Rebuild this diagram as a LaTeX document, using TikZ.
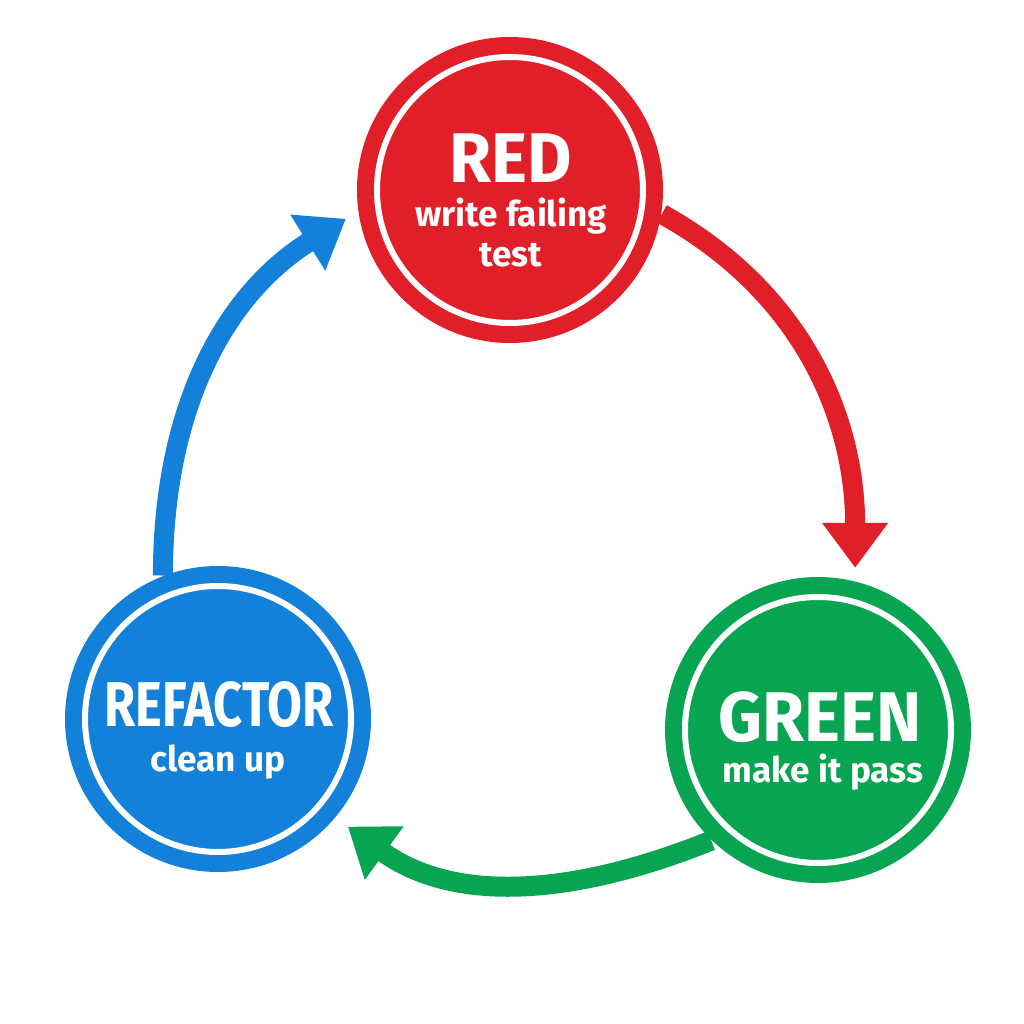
\documentclass[tikz,border=0pt]{standalone}
\usepackage{fontspec}
\setmainfont{Fira Sans}
\newfontfamily\titlefont[FakeStretch=0.97]{Fira Sans}
\newfontfamily\narrowfont[FakeStretch=0.8]{Fira Sans}
\usetikzlibrary{arrows.meta,positioning,calc}
\definecolor{tddred}{HTML}{E11F28}
\definecolor{tddgreen}{HTML}{07A552}
\definecolor{tddblue}{HTML}{1380DA}
\tikzset{
  stage/.style={circle,fill=#1,minimum size=3.06cm,inner sep=0pt,
    path picture={\draw[white,line width=0.6mm]
      (path picture bounding box.center) circle (1.33cm);}},
  stagetitle/.style={anchor=base,text=white,inner sep=0pt,
    font=\titlefont\bfseries\fontsize{20}{20}\selectfont},
  stagesub/.style={anchor=base,text=white,inner sep=0pt,
    font=\bfseries\fontsize{10}{10}\selectfont},
  cyc/.style={-{Triangle[length=4.5mm,width=6.3mm]},line width=2mm,draw=#1},
}
\begin{document}
\begin{tikzpicture}
  \path[use as bounding box,fill=white] (0,0) rectangle (10.24,10.24);
  % --- the three stages ---
  \node[stage=tddred] (red) at (5.10,8.34) {};
  \node[stage=tddgreen] (green) at (8.18,2.94) {};
  \node[stage=tddblue] (refactor) at (2.18,3.05) {};
  \node[stagetitle] (redtitle) at ($(red)+(0.01,0.07)$) {RED};
  \node[stagesub] (redsub) at ($(red)+(0.01,-0.37)$) {write failing};
  \node[stagesub] (redsubb) at ($(red)+(0.01,-0.77)$) {test};
  \node[stagetitle] (greentitle) at ($(green)+(0.02,-0.12)$) {GREEN};
  \node[stagesub] (greensub) at ($(green)+(0.05,-0.53)$) {make it pass};
  \node[stagetitle,font=\narrowfont\bfseries\fontsize{18}{18}\selectfont]
    (refactortitle) at ($(refactor)+(0.01,-0.08)$) {REFACTOR};
  \node[stagesub] (refactorsub) at ($(refactor)+(0,-0.53)$) {clean up};
  % --- cycle arrows ---
  \draw[cyc=tddred,shorten >=1.3mm] (red.-9) to[out=-29,in=90] (green.76);
  \draw[cyc=tddgreen,shorten >=1.5mm] (green.226) to[out=202,in=-36] (refactor.-40);
  \draw[cyc=tddblue,shorten >=1.4mm] (refactor.111) to[out=90,in=212] (red.188);
\end{tikzpicture}
\end{document}
